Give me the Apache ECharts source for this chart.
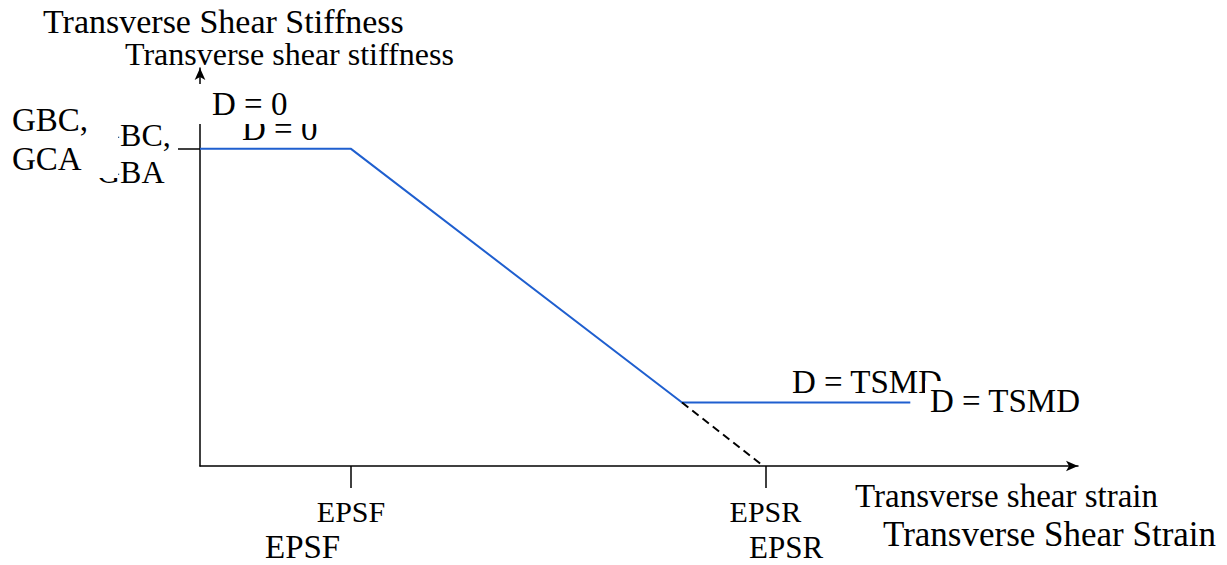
<!DOCTYPE html>
<html>
<head>
<meta charset="utf-8">
<script src="https://cdn.jsdelivr.net/npm/echarts@6/dist/echarts.min.js"></script>
<style>
html,body{margin:0;padding:0;background:#fff;}
#chart{width:1227px;height:565px;}
</style>
</head>
<body>
<div id="chart"></div>
<script>
// ---- data ----
const strainPts = [0, 0.172, 0.549, 0.809];       // transverse shear strain
const stiffPts  = [1, 1, 0.2, 0.2];                // transverse shear stiffness (relative to GBC/GCA)
const extStrain = [0.549, 0.638];                  // dashed extension
const extStiff  = [0.2, 0.008];
const strainTicks = [0.172, 0.644];
const strainTickLabels = ['EPSF', 'EPSR'];
const stiffTicks = [1];
const stiffTickLabels = ['GBC,\nGCA'];
const xMax = 1, yMax = 1.255;

const FONT = 'Liberation Serif';
const chart = echarts.init(document.getElementById('chart'), null, {renderer: 'svg'});

function txt(text, x, y, size, z, lh) {
  const st = {text: text, fontFamily: FONT, fontSize: size, fill: '#000', verticalAlign: 'middle', align: 'left'};
  if (lh) st.lineHeight = lh;
  return {type: 'text', z: z, x: x, y: y, style: st};
}

const option = {
  backgroundColor: '#fff',
  animation: false,
  grid: {left: 200, right: 149, top: 68, bottom: 99, containLabel: false},
  xAxis: {
    type: 'value', min: 0, max: xMax,
    splitLine: {show: false},
    axisLine: {show: true, lineStyle: {color: '#000', width: 1.5}, symbol: ['none', 'arrow'], symbolSize: [8, 12]},
    axisTick: {show: true, customValues: strainTicks, length: 22, inside: false, lineStyle: {color: '#000', width: 1.5}},
    axisLabel: {
      show: true, customValues: strainTicks, margin: 45, verticalAlign: 'middle',
      fontFamily: FONT, fontSize: 30, color: '#000',
      formatter: function (v) { const i = strainTicks.indexOf(v); return i >= 0 ? strainTickLabels[i] : ''; }
    }
  },
  yAxis: {
    type: 'value', min: 0, max: yMax,
    splitLine: {show: false},
    axisLine: {show: true, lineStyle: {color: '#000', width: 1.5}, symbol: ['none', 'arrow'], symbolSize: [8, 12]},
    axisTick: {show: true, customValues: stiffTicks, length: 22, inside: false, lineStyle: {color: '#000', width: 1.5}},
    axisLabel: {show: false}
  },
  series: [
    {
      type: 'line', data: strainPts.map((x, i) => [x, stiffPts[i]]),
      symbol: 'none', lineStyle: {color: '#1f5fcf', width: 2}, z: 3
    },
    {
      type: 'line', data: extStrain.map((x, i) => [x, extStiff[i]]),
      symbol: 'none', lineStyle: {color: '#000', width: 2, type: [8, 5]}, z: 3
    }
  ],
  graphic: {elements: [
    // axis titles
    txt('Transverse Shear Stiffness', 43, 21, 34, 20),
    txt('Transverse shear stiffness', 125, 54, 32, 20),
    txt('Transverse shear strain', 855, 496, 33, 20),
    txt('Transverse Shear Strain', 883, 534, 35, 20),
    // second y tick label (partly hidden)
    txt('GBC,\nGBA', 97, 153, 32, 20, 37),
    {type: 'rect', z: 21, shape: {x: 0, y: 95, width: 118, height: 83}, style: {fill: '#fff'}},
    txt(stiffTickLabels[0], 12, 139, 33, 22, 39),
    // D = 0 labels
    txt('D = 0', 242, 129, 33, 20),
    {type: 'rect', z: 21, shape: {x: 195, y: 84, width: 127, height: 40}, style: {fill: '#fff'}},
    txt('D = 0', 212, 104, 33, 22),
    // D = TSMD labels
    txt('D = TSMD', 792, 382, 33, 20),
    {type: 'rect', z: 21, shape: {x: 925, y: 381, width: 165, height: 39}, style: {fill: '#fff'}},
    txt('D = TSMD', 930, 401, 33, 22),
    // second strain tick labels
    txt('EPSF', 265, 547, 33, 20),
    txt('EPSR', 749, 547, 31, 20)
  ]}
};
chart.setOption(option);
</script>
</body>
</html>
